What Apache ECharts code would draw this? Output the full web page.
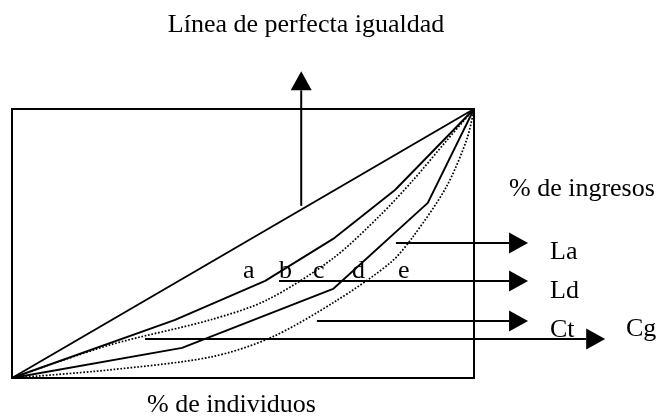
<!DOCTYPE html>
<html>
<head>
<meta charset="utf-8">
<script src="https://cdn.jsdelivr.net/npm/echarts@6/dist/echarts.min.js"></script>
<style>
  html, body { margin: 0; padding: 0; background: #fff; }
  #chart { width: 660px; height: 416px; }
</style>
</head>
<body>
<div id="chart"></div>
<script>
// % de individuos (x) vs % de ingresos (y)
const equalityLine = [[0, 0], [100, 100]];
const curveLa = [[0, 0], [35.3, 21.6], [54.8, 36.1], [69.5, 51.7], [82.9, 69.9], [100, 100]];
const curveLd = [[0, 0], [21.2, 12.3], [42.9, 21.6], [55.2, 29.0], [69.5, 44.5], [79.7, 60.5], [86.8, 73.5], [94.2, 88.5], [100, 100]];
const curveCt = [[0, 0], [36.8, 11.2], [69.5, 33.1], [90.0, 65.1], [100, 100]];
const curveCg = [[0, 0], [21, 3], [43, 7.8], [56, 15], [70, 28.5], [82, 43], [87, 53], [94, 71], [98.5, 89], [100, 100]];

// annotation arrows, data coords [tail, head]
const arrowLines = [
  [[62.6, 64], [62.6, 114]],
  [[83.1, 50.2], [111.7, 50.2]],
  [[57.8, 36.1], [111.7, 36.1]],
  [[66.0, 21.2], [111.7, 21.2]],
  [[28.8, 14.5], [128.4, 14.5]]
];

const letterLabels = ['a', 'b', 'c', 'd', 'e'];
const letterX = [243, 279, 313, 352, 398];

const FONT = '26px "Liberation Serif", "Times New Roman", serif';

const chart = echarts.init(document.getElementById('chart'), null, { renderer: 'canvas' });

const lineSeries = (name, data, dotted, smooth) => ({
  name: name,
  type: 'line',
  data: data,
  symbol: 'none',
  smooth: smooth ? 0.3 : false,
  silent: true,
  lineStyle: {
    color: '#000',
    width: dotted ? 1.7 : 1.9,
    type: dotted ? [1.7, 1.7] : 'solid'
  }
});

chart.setOption({
  animation: false,
  grid: {
    left: 12, top: 109, width: 462, height: 269,
    show: true, borderColor: '#000', borderWidth: 2, backgroundColor: 'transparent'
  },
  xAxis: { type: 'value', min: 0, max: 100, show: false },
  yAxis: { type: 'value', min: 0, max: 100, show: false },
  series: [
    lineSeries('Igualdad', equalityLine, false, false),
    lineSeries('La', curveLa, false, false),
    lineSeries('Ld', curveLd, true, true),
    lineSeries('Ct', curveCt, false, false),
    lineSeries('Cg', curveCg, true, true)
  ]
});

function txt(text, x, y, align) {
  return {
    type: 'text', x: x, y: y, silent: true,
    style: { text: text, font: FONT, fill: '#000', align: align || 'left', verticalAlign: 'middle',
             textAlign: align || 'left', textVerticalAlign: 'middle' }
  };
}

const els = [];
arrowLines.forEach(function (a) {
  const p0 = chart.convertToPixel({ gridIndex: 0 }, a[0]);
  const p1 = chart.convertToPixel({ gridIndex: 0 }, a[1]);
  const dx = p1[0] - p0[0], dy = p1[1] - p0[1];
  const len = Math.sqrt(dx * dx + dy * dy);
  const ux = dx / len, uy = dy / len;
  const hl = 19, hw = 10.5;
  const bx = p1[0] - ux * hl, by = p1[1] - uy * hl;
  els.push({
    type: 'line', silent: true,
    shape: { x1: p0[0], y1: p0[1], x2: bx, y2: by },
    style: { stroke: '#000', lineWidth: 2 }
  });
  els.push({
    type: 'polygon', silent: true,
    shape: { points: [[p1[0], p1[1]], [bx - uy * hw, by + ux * hw], [bx + uy * hw, by - ux * hw]] },
    style: { fill: '#000' }
  });
});

els.push(txt('Línea de perfecta igualdad', 306, 25, 'center'));
els.push(txt('% de ingresos', 509, 189));
els.push(txt('% de individuos', 147, 405));
els.push(txt('La', 550, 252));
els.push(txt('Ld', 550, 291));
els.push(txt('Ct', 550, 330));
els.push(txt('Cg', 626, 329));
letterLabels.forEach(function (l, i) {
  els.push(txt(l, letterX[i], 271));
});

chart.setOption({ graphic: { elements: els } });
</script>
</body>
</html>
